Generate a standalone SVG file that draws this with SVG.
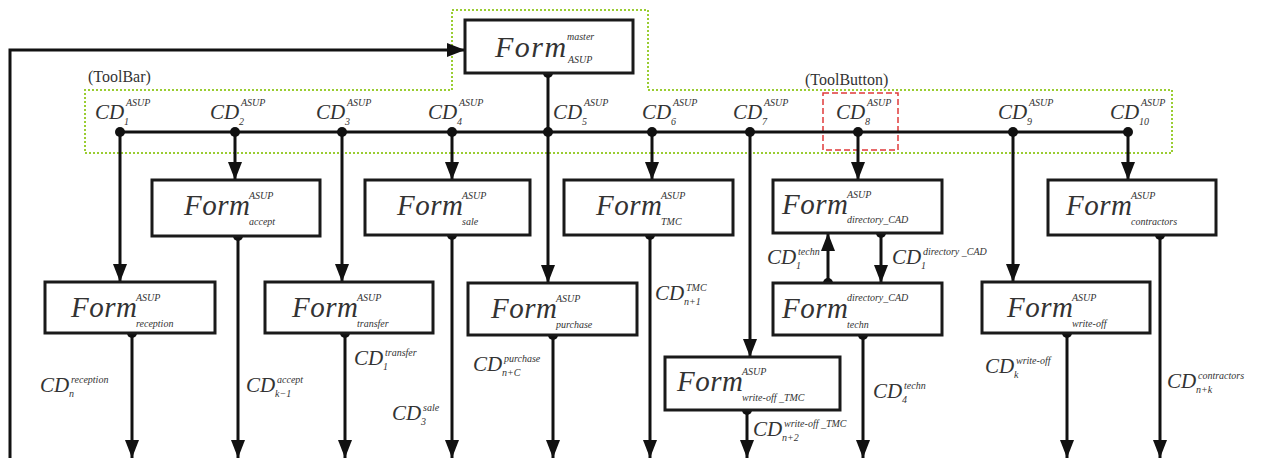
<svg xmlns="http://www.w3.org/2000/svg" width="1261" height="458" viewBox="0 0 1261 458">
<style>
.box{fill:#fff;stroke:#1a1a1a;stroke-width:3}
.F{font-family:"Liberation Serif",serif;font-style:italic;font-size:29px;letter-spacing:0.5px;fill:#333}
.FM{font-family:"Liberation Serif",serif;font-style:italic;font-size:30px;letter-spacing:1.5px;fill:#333}
.cd{font-family:"Liberation Serif",serif;font-style:italic;font-size:21px;fill:#333}
.sp{font-family:"Liberation Serif",serif;font-style:italic;font-size:10px;fill:#333}
.sb{font-family:"Liberation Serif",serif;font-style:italic;font-size:10px;fill:#333}
.lbl{font-family:"Liberation Serif",serif;font-size:16px;fill:#333}
.ln{stroke:#111;stroke-width:3;fill:none}
.arr{marker-end:url(#ah)}
.dot{fill:#111}
.grn{fill:none;stroke:#9acd32;stroke-width:2;stroke-dasharray:2 2}
.red{fill:none;stroke:#e03a3a;stroke-width:1.5;stroke-dasharray:6 3}
</style>
<defs>
<marker id="ah" markerUnits="userSpaceOnUse" markerWidth="18" markerHeight="14" refX="18" refY="7" orient="auto">
<path d="M0,0 L18,7 L0,14 z" fill="#111"/>
</marker>
</defs>
<rect width="1261" height="458" fill="#fff"/>

<g id="toolbar-frame">
<polygon class="grn" points="452,10 648,10 648,90 1172,90 1172,153 85,153 85,90 452,90"/>
<text class="lbl" x="88" y="82">(ToolBar)</text>
<rect class="red" x="823" y="93" width="75" height="57"/>
<text class="lbl" x="805" y="85">(ToolButton)</text>
</g>

<g id="connectors">
<polyline class="ln arr" points="10,458 10,50 465,50"/>
<line class="ln" x1="120" y1="132" x2="1128" y2="132"/>
<line class="ln" x1="548" y1="73" x2="548" y2="132"/>
<line class="ln arr" x1="120" y1="132" x2="120" y2="282"/>
<line class="ln arr" x1="235" y1="132" x2="235" y2="180"/>
<line class="ln arr" x1="342" y1="132" x2="342" y2="282"/>
<line class="ln arr" x1="452" y1="132" x2="452" y2="180"/>
<line class="ln arr" x1="548" y1="132" x2="548" y2="283"/>
<line class="ln arr" x1="652" y1="132" x2="652" y2="180"/>
<line class="ln arr" x1="750" y1="132" x2="750" y2="357"/>
<line class="ln arr" x1="858" y1="132" x2="858" y2="180"/>
<line class="ln arr" x1="1013" y1="132" x2="1013" y2="282"/>
<line class="ln arr" x1="1128" y1="132" x2="1128" y2="180"/>
<line class="ln arr" x1="828" y1="283" x2="828" y2="233"/>
<line class="ln arr" x1="881" y1="233" x2="881" y2="283"/>
<line class="ln arr" x1="132" y1="333" x2="132" y2="458"/>
<line class="ln arr" x1="238" y1="236" x2="238" y2="458"/>
<line class="ln arr" x1="345" y1="333" x2="345" y2="458"/>
<line class="ln arr" x1="452" y1="235" x2="452" y2="458"/>
<line class="ln arr" x1="553" y1="335" x2="553" y2="458"/>
<line class="ln arr" x1="650" y1="235" x2="650" y2="458"/>
<line class="ln arr" x1="747" y1="410" x2="747" y2="458"/>
<line class="ln arr" x1="863" y1="335" x2="863" y2="458"/>
<line class="ln arr" x1="1067" y1="333" x2="1067" y2="458"/>
<line class="ln arr" x1="1160" y1="235" x2="1160" y2="458"/>
<g class="dot">
<circle cx="120" cy="132" r="5"/><circle cx="235" cy="132" r="5"/><circle cx="342" cy="132" r="5"/>
<circle cx="452" cy="132" r="5"/><circle cx="548" cy="132" r="5"/><circle cx="652" cy="132" r="5"/>
<circle cx="750" cy="132" r="5"/><circle cx="858" cy="132" r="5"/><circle cx="1013" cy="132" r="5"/>
<circle cx="1128" cy="132" r="5"/><circle cx="548" cy="73" r="5"/>
<circle cx="828" cy="283" r="5"/><circle cx="881" cy="233" r="5"/>
<circle cx="132" cy="333" r="5"/><circle cx="238" cy="236" r="5"/><circle cx="345" cy="333" r="5"/>
<circle cx="452" cy="235" r="5"/><circle cx="553" cy="335" r="5"/><circle cx="650" cy="235" r="5"/>
<circle cx="747" cy="410" r="5"/><circle cx="863" cy="335" r="5"/><circle cx="1067" cy="333" r="5"/>
<circle cx="1160" cy="235" r="5"/>
</g>
</g>

<g id="bus-labels">
<text class="cd" x="95" y="119">CD</text><text class="sb" x="124" y="125">1</text><text class="sp" x="126" y="106">ASUP</text>
<text class="cd" x="210" y="119">CD</text><text class="sb" x="239" y="125">2</text><text class="sp" x="241" y="106">ASUP</text>
<text class="cd" x="316" y="119">CD</text><text class="sb" x="345" y="125">3</text><text class="sp" x="347" y="106">ASUP</text>
<text class="cd" x="428" y="119">CD</text><text class="sb" x="457" y="125">4</text><text class="sp" x="459" y="106">ASUP</text>
<text class="cd" x="553" y="119">CD</text><text class="sb" x="582" y="125">5</text><text class="sp" x="584" y="106">ASUP</text>
<text class="cd" x="642" y="119">CD</text><text class="sb" x="671" y="125">6</text><text class="sp" x="673" y="106">ASUP</text>
<text class="cd" x="733" y="119">CD</text><text class="sb" x="762" y="125">7</text><text class="sp" x="764" y="106">ASUP</text>
<text class="cd" x="836" y="119">CD</text><text class="sb" x="865" y="125">8</text><text class="sp" x="867" y="106">ASUP</text>
<text class="cd" x="998" y="119">CD</text><text class="sb" x="1027" y="125">9</text><text class="sp" x="1029" y="106">ASUP</text>
<text class="cd" x="1110" y="119">CD</text><text class="sb" x="1139" y="125">10</text><text class="sp" x="1141" y="106">ASUP</text>
</g>

<g id="form-master"><rect class="box" x="465" y="20" width="168" height="53"/><text class="FM" x="495" y="57">Form</text><text class="sp" x="567" y="40">master</text><text class="sb" x="568" y="63">ASUP</text></g>
<g id="form-accept"><rect class="box" x="152" y="180" width="168" height="56"/><text class="F" x="184" y="215">Form</text><text class="sp" x="249" y="199">ASUP</text><text class="sb" x="249" y="225">accept</text></g>
<g id="form-sale"><rect class="box" x="365" y="180" width="165" height="55"/><text class="F" x="397" y="215">Form</text><text class="sp" x="462" y="199">ASUP</text><text class="sb" x="462" y="225">sale</text></g>
<g id="form-tmc"><rect class="box" x="564" y="180" width="169" height="55"/><text class="F" x="596" y="215">Form</text><text class="sp" x="661" y="199">ASUP</text><text class="sb" x="661" y="225">TMC</text></g>
<g id="form-directory-cad"><rect class="box" x="773" y="180" width="169" height="53"/><text class="F" x="782" y="214">Form</text><text class="sp" x="847" y="198">ASUP</text><text class="sb" x="847" y="223">directory_CAD</text></g>
<g id="form-contractors"><rect class="box" x="1048" y="180" width="168" height="55"/><text class="F" x="1066" y="215">Form</text><text class="sp" x="1131" y="199">ASUP</text><text class="sb" x="1131" y="225">contractors</text></g>
<g id="form-reception"><rect class="box" x="45" y="282" width="170" height="51"/><text class="F" x="71" y="317">Form</text><text class="sp" x="136" y="301">ASUP</text><text class="sb" x="136" y="327">reception</text></g>
<g id="form-transfer"><rect class="box" x="265" y="282" width="168" height="51"/><text class="F" x="292" y="317">Form</text><text class="sp" x="357" y="301">ASUP</text><text class="sb" x="357" y="327">transfer</text></g>
<g id="form-purchase"><rect class="box" x="468" y="283" width="169" height="52"/><text class="F" x="491" y="318">Form</text><text class="sp" x="556" y="302">ASUP</text><text class="sb" x="556" y="328">purchase</text></g>
<g id="form-techn"><rect class="box" x="773" y="283" width="169" height="52"/><text class="F" x="782" y="318">Form</text><text class="sp" x="847" y="301">directory_CAD</text><text class="sb" x="847" y="328">techn</text></g>
<g id="form-write-off"><rect class="box" x="982" y="282" width="168" height="51"/><text class="F" x="1007" y="317">Form</text><text class="sp" x="1072" y="301">ASUP</text><text class="sb" x="1072" y="327">write-off</text></g>
<g id="form-write-off-tmc"><rect class="box" x="665" y="357" width="175" height="53"/><text class="F" x="677" y="391">Form</text><text class="sp" x="742" y="375">ASUP</text><text class="sb" x="742" y="401">write-off _TMC</text></g>

<g id="flow-labels">
<text class="cd" x="40" y="392">CD</text><text class="sb" x="69" y="397">n</text><text class="sp" x="71" y="383">reception</text>
<text class="cd" x="246" y="392">CD</text><text class="sb" x="275" y="397">k−1</text><text class="sp" x="277" y="383">accept</text>
<text class="cd" x="354" y="365">CD</text><text class="sb" x="383" y="370">1</text><text class="sp" x="385" y="356">transfer</text>
<text class="cd" x="392" y="420">CD</text><text class="sb" x="421" y="425">3</text><text class="sp" x="423" y="411">sale</text>
<text class="cd" x="473" y="371">CD</text><text class="sb" x="502" y="376">n+C</text><text class="sp" x="504" y="362">purchase</text>
<text class="cd" x="655" y="300">CD</text><text class="sb" x="684" y="305">n+1</text><text class="sp" x="686" y="291">TMC</text>
<text class="cd" x="753" y="436">CD</text><text class="sb" x="782" y="441">n+2</text><text class="sp" x="784" y="427">write-off _TMC</text>
<text class="cd" x="767" y="264">CD</text><text class="sb" x="796" y="269">1</text><text class="sp" x="798" y="255">techn</text>
<text class="cd" x="892" y="264">CD</text><text class="sb" x="921" y="269">1</text><text class="sp" x="923" y="255">directory _CAD</text>
<text class="cd" x="873" y="398">CD</text><text class="sb" x="902" y="403">4</text><text class="sp" x="904" y="389">techn</text>
<text class="cd" x="985" y="373">CD</text><text class="sb" x="1014" y="378">k</text><text class="sp" x="1016" y="364">write-off</text>
<text class="cd" x="1167" y="388">CD</text><text class="sb" x="1196" y="393">n+k</text><text class="sp" x="1198" y="379">contractors</text>
</g>
</svg>
